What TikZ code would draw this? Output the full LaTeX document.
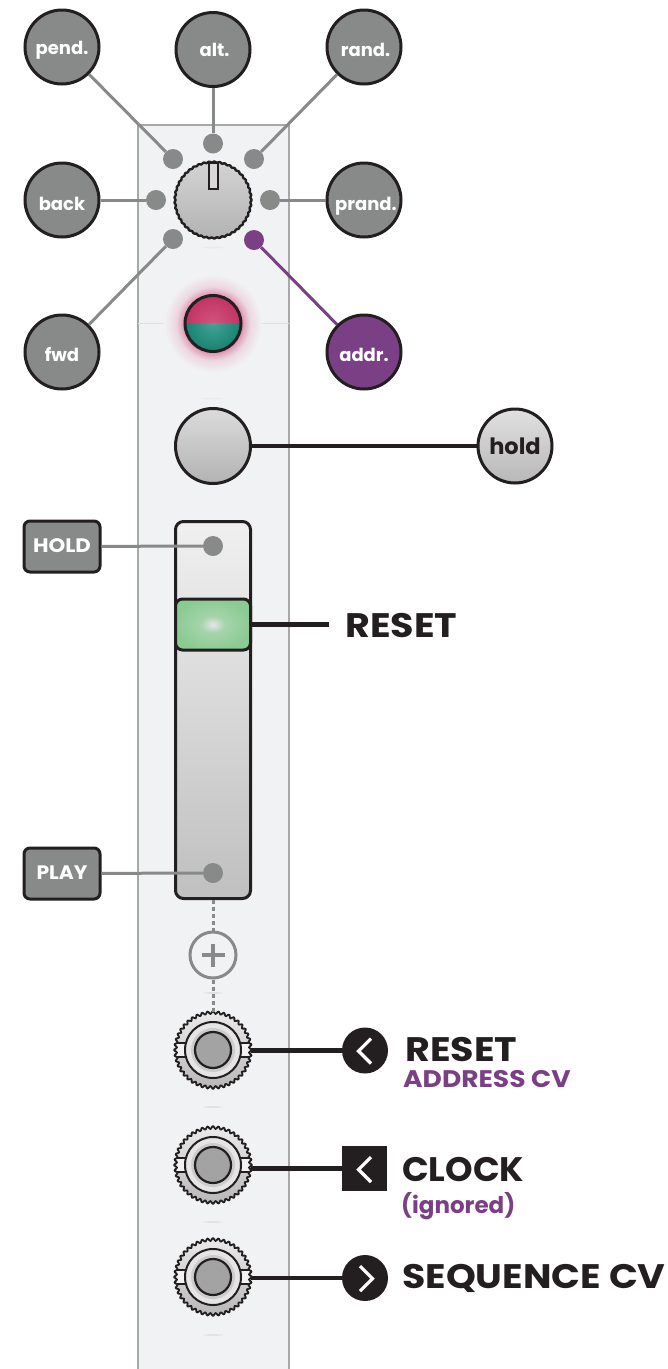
\documentclass[tikz,border=0pt]{standalone}
\usepackage{fontspec}
\setmainfont{Poppins}
\newcommand{\stch}[1]{\addfontfeature{FakeStretch=#1}}
\definecolor{ink}{HTML}{231F20}
\definecolor{grayc}{HTML}{878A88}
\definecolor{purp}{HTML}{7B3F85}
\definecolor{panelc}{HTML}{F1F2F4}
\definecolor{panelline}{HTML}{A7A9A9}
\definecolor{redc}{HTML}{CB3668}
\definecolor{tealc}{HTML}{178A78}
\definecolor{hgreen}{HTML}{8BCB92}
\definecolor{hmid}{HTML}{A6D4AC}
\definecolor{hwhite}{HTML}{DDE6DF}
\pgfdeclareradialshading{glowshade}{\pgfpoint{0bp}{0bp}}{color(0bp)=(redc!60!panelc); color(14bp)=(redc!60!panelc); color(16bp)=(redc!38!panelc); color(19bp)=(redc!14!panelc); color(25bp)=(panelc); color(50bp)=(panelc)}
\pgfdeclareradialshading{handleshade}{\pgfpoint{0bp}{0bp}}{color(0bp)=(hwhite); color(1bp)=(hwhite); color(8bp)=(hmid); color(25bp)=(hgreen); color(50bp)=(hgreen)}
\tikzset{
  lab/.style={font=\fontsize{18}{18}\selectfont\bfseries,text=white},
  mode/.style={circle,draw=ink,line width=3pt,fill=grayc,minimum size=74pt,inner sep=0pt,lab,text height=18pt,text depth=0pt},
  dotn/.style={circle,fill=grayc,minimum size=20pt,inner sep=0pt},
  link/.style={draw=grayc,line width=3pt},
  plink/.style={draw=purp,line width=3pt},
  blink/.style={draw=ink,line width=4.5pt},
  tag/.style={rectangle,rounded corners=6pt,draw=ink,line width=3pt,fill=grayc,minimum width=76pt,minimum height=51pt,inner sep=0pt,font=\fontsize{19.5}{19.5}\selectfont\bfseries,text=white,text height=12.5pt,text depth=0pt},
  port/.style={circle,fill=ink,minimum size=46pt,inner sep=0pt},
  chev/.style={draw=white,line width=3.2pt},
  bigt/.style={anchor=base west,inner sep=0pt,font=\fontsize{34}{34}\selectfont\bfseries,text=ink},
  subt/.style={anchor=base west,inner sep=0pt,font=\fontsize{24}{24}\selectfont\bfseries,text=purp},
  jackn/.style={circle,minimum size=76pt,inner sep=0pt},
  smudge/.style={fill=black!8}
}
\newcommand{\jackbody}[1]{%
  \begin{scope}[shift={(#1)}]
    \fill[top color=black!8,bottom color=black!28]
      plot[domain=0:360,samples=361] ({(37.5+1.3*cos(44*\x))*cos(\x)},{(37.5+1.3*cos(44*\x))*sin(\x)}) -- cycle;
    \fill[black!5] (-36,-7) rectangle (36,7);
    \draw[ink,line width=1.8pt] (-36.5,-7) -- (36.5,-7) (-36.5,7) -- (36.5,7);
    \draw[ink,line width=1.8pt]
      plot[domain=0:360,samples=361] ({(37.5+1.3*cos(44*\x))*cos(\x)},{(37.5+1.3*cos(44*\x))*sin(\x)}) -- cycle;
    \draw[ink,line width=2pt,fill=black!10] (0,0) circle (28);
    \fill[black!20] (0,0) circle (22);
    \draw[ink,line width=2.2pt,fill=black!36] (0,0) circle (18);
  \end{scope}}
\begin{document}
\begin{tikzpicture}[x=1pt,y=-1pt]
\useasboundingbox (0,0) rectangle (668,1369);
\fill[white] (0,0) rectangle (668,1369);
% panel
\fill[panelc] (138,125) rectangle (289,1369);
\draw[panelline,line width=1.8pt] (138,1369) -- (138,125) -- (289,125) -- (289,1369);
\draw[black!12,line width=.7pt] (138,323) -- (289,323);
\fill[smudge] (213,247.5) ellipse (10 and 1);
\fill[smudge] (213,398.5) ellipse (10 and 1);
\fill[panelc!90!black] (213,993) ellipse (10 and .6);
\fill[panelc!90!black] (213,1107) ellipse (10 and .6);
\fill[panelc!90!black] (213,1222) ellipse (10 and .6);
\fill[panelc!90!black] (213,1335) ellipse (10 and .6);
% knob
\node[jackn] (knob) at (213,200) {};
\draw[ink,line width=2.4pt,top color=black!17,bottom color=black!30]
  plot[domain=0:360,samples=361] ({213+(38+.5*cos(45*\x))*cos(\x)},{200+(38+.5*cos(45*\x))*sin(\x)}) -- cycle;
\draw[ink,line width=2.2pt,fill=black!15] (209,163) rectangle (218,189);
% mode nodes
\node[mode,text height=14pt] (pend) at (62,47) {pend.};
\node[mode,text height=13.5pt] (alt) at (213,49.5) {\hspace*{3pt}alt.};
\node[mode] (rand) at (364,47) {\hspace*{3pt}rand.};
\node[mode,text height=20pt] (back) at (62,200) {back};
\node[mode,text height=20pt] (prand) at (364,200) {\hspace*{4pt}prand.};
\node[mode] (fwd) at (62,352) {fwd};
\node[mode,fill=purp] (addr) at (364,352) {addr.};
\node[dotn] (d1) at (173,159) {};
\node[dotn] (d2) at (213,143.5) {};
\node[dotn] (d3) at (254,159) {};
\node[dotn] (d4) at (156,200) {};
\node[dotn] (d5) at (270,200) {};
\node[dotn] (d6) at (173,239) {};
\node[dotn,fill=purp] (d7) at (254,240) {};
\draw[link] (pend) -- (d1);
\draw[link] (alt) -- (d2);
\draw[link] (rand) -- (d3);
\draw[link] (back) -- (d4);
\draw[link] (prand) -- (d5);
\draw[link] (fwd) -- (d6);
\draw[plink] (addr) -- (d7);
% LED
\shade[shading=glowshade] (213,323.5) circle (49);
\node[circle,minimum size=56pt,inner sep=0pt] (led) at (213,323.5) {};
\begin{scope}
  \clip (185,295) rectangle (241,323.5);
  \fill[inner color=redc!85!white,outer color=redc!95!black] (213,323.5) circle (28);
\end{scope}
\begin{scope}
  \clip (185,323.5) rectangle (241,352);
  \fill[inner color=tealc!80!white,outer color=tealc!95!black] (213,323.5) circle (28);
\end{scope}
\draw[ink,line width=3pt] (213,323.5) circle (28);
% hold button
\node[circle,draw=ink,line width=3pt,top color=black!14,bottom color=black!30,minimum size=75pt,inner sep=0pt] (btn) at (213,446) {};
\node[circle,draw=ink,line width=3pt,top color=black!12,bottom color=black!28,minimum size=74pt,inner sep=0pt,font=\fontsize{22.5}{22.5}\selectfont\bfseries,text=ink] (hold) at (515,446) {hold};
\draw[ink,line width=3.5pt] (btn) -- (hold);
% slider
\node[rectangle,rounded corners=8pt,draw=ink,line width=3pt,top color=black!6,bottom color=black!25,minimum width=75pt,minimum height=377pt,inner sep=0pt] (slider) at (213,710) {};
\node[rectangle,rounded corners=7pt,draw=ink,line width=3pt,shading=handleshade,minimum width=75pt,minimum height=51pt,inner sep=0pt] (handle) at (213,624.5) {};
\coordinate (resetend) at (329,624.5);
\draw[blink] (handle.east) -- (resetend);
\node[bigt] (resettext) at (345,637) {\stch{1.12}RESET};
\node[dotn] (dh) at (213,546) {};
\node[dotn] (dp) at (213,873) {};
\node[tag] (holdt) at (62,546.5) {\stch{1.09}HOLD};
\node[tag] (playt) at (62,873.5) {\stch{1.04}PLAY};
\draw[link] (holdt) -- (dh);
\draw[link] (playt) -- (dp);
% plus
\node[circle,draw=grayc,line width=3pt,fill=panelc,minimum size=46pt,inner sep=0pt] (plus) at (213,955) {};
\draw[grayc,line width=3.8pt] (201.5,955) -- (224.5,955) (213,943.5) -- (213,966.5);
% jacks
\jackbody{213,1050}
\jackbody{213,1165}
\jackbody{213,1277}
\node[jackn] (j1) at (213,1050) {};
\node[jackn] (j2) at (213,1165) {};
\node[jackn] (j3) at (213,1277) {};
\draw[grayc,line width=3pt,dash pattern=on 4pt off 3pt] (slider.south) -- (plus.north);
\draw[grayc,line width=3pt,dash pattern=on 4pt off 3pt] (plus.south) -- (j1.north);
% ports
\node[port] (p1) at (365,1050.5) {};
\node[rectangle,fill=ink,minimum size=45pt,inner sep=0pt] (p2) at (364.5,1168.5) {};
\node[port] (p3) at (365,1278) {};
\draw[blink] (j1.east |- p1) -- (p1);
\draw[blink] (j2.east |- p2) -- (p2);
\draw[blink] (j3.east |- p3) -- (p3);
\draw[chev] (371,1038.5) -- (358.5,1051) -- (371,1063.5);
\draw[chev] (371,1157) -- (358.5,1169.5) -- (371,1182);
\draw[chev] (360,1266) -- (372.5,1278.5) -- (360,1291);
% labels
\node[bigt] (t1) at (405,1061) {\stch{1.12}RESET};
\node[subt] (t2) at (403,1087) {\stch{1.105}ADDRESS CV};
\node[bigt] (t3) at (402,1181) {\stch{1.03}CLOCK};
\node[subt,font=\fontsize{23}{23}\selectfont\bfseries] (t4) at (401,1213) {(ignored)};
\node[bigt] (t5) at (402,1288) {\stch{1.115}SEQUENCE CV};
\end{tikzpicture}
\end{document}
